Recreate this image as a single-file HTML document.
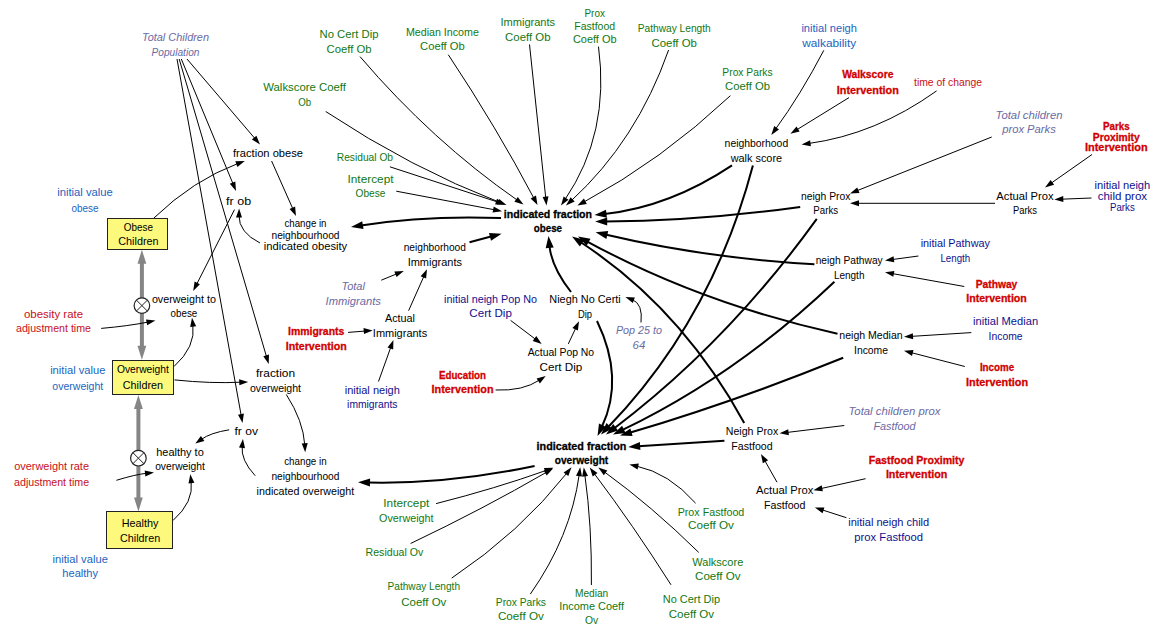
<!DOCTYPE html>
<html><head><meta charset="utf-8"><style>
html,body{margin:0;padding:0;background:#fff;}
svg{display:block;}
text{font-family:"Liberation Sans",sans-serif;font-size:11px;text-anchor:middle;}
</style></head><body>
<svg width="1172" height="636" viewBox="0 0 1172 636">
<rect width="1172" height="636" fill="#fff"/>
<line x1="141.9" y1="259.8" x2="141.9" y2="349.8" stroke="#858585" stroke-width="4"/><polygon points="141.9,249.8 137.5,263.8 146.3,263.8" fill="#858585"/><polygon points="141.9,359.8 137.5,345.8 146.3,345.8" fill="#858585"/><circle cx="141.9" cy="305.6" r="7.8" fill="#fff" stroke="#222" stroke-width="1.2"/><line x1="136.4" y1="300.1" x2="147.4" y2="311.1" stroke="#222" stroke-width="1"/><line x1="136.4" y1="311.1" x2="147.4" y2="300.1" stroke="#222" stroke-width="1"/>
<line x1="138.4" y1="405" x2="138.4" y2="501.5" stroke="#858585" stroke-width="4"/><polygon points="138.4,395 134.0,409 142.8,409" fill="#858585"/><polygon points="138.4,511.5 134.0,497.5 142.8,497.5" fill="#858585"/><circle cx="138.4" cy="458.2" r="7.8" fill="#fff" stroke="#222" stroke-width="1.2"/><line x1="132.9" y1="452.7" x2="143.9" y2="463.7" stroke="#222" stroke-width="1"/><line x1="132.9" y1="463.7" x2="143.9" y2="452.7" stroke="#222" stroke-width="1"/>
<path d="M187.0,59.0 L255.5,139.2" fill="none" stroke="#000" stroke-width="1.0"/>
<polygon points="260.0,144.5 251.9,139.6 256.4,135.7" fill="#000"/>
<path d="M181.3,59.0 L233.3,184.5" fill="none" stroke="#000" stroke-width="1.0"/>
<polygon points="236.0,191.0 229.8,183.8 235.3,181.5" fill="#000"/>
<path d="M179.2,59.0 L266.7,357.3" fill="none" stroke="#000" stroke-width="1.0"/>
<polygon points="268.7,364.0 263.3,356.2 269.0,354.5" fill="#000"/>
<path d="M177.0,59.0 L241.3,416.1" fill="none" stroke="#000" stroke-width="1.0"/>
<polygon points="242.5,423.0 238.0,414.7 243.9,413.6" fill="#000"/>
<path d="M153.9,218.0 Q193.4,180.0 238.2,163.4" fill="none" stroke="#000" stroke-width="1.0"/>
<polygon points="244.8,161.0 237.4,166.9 235.3,161.3" fill="#000"/>
<path d="M271.6,161.0 L293.2,209.6" fill="none" stroke="#000" stroke-width="1.0"/>
<polygon points="296.0,216.0 289.6,209.0 295.1,206.6" fill="#000"/>
<path d="M260.0,243.0 Q238.7,232.3 239.0,215.5" fill="none" stroke="#000" stroke-width="1.0"/>
<polygon points="239.1,208.5 242.0,217.5 236.0,217.5" fill="#000"/>
<path d="M234.5,209.6 L196.4,284.8" fill="none" stroke="#000" stroke-width="1.0"/>
<polygon points="193.2,291.0 194.6,281.6 199.9,284.3" fill="#000"/>
<path d="M101.2,328.4 Q128.5,326.0 148.5,322.0" fill="none" stroke="#000" stroke-width="1.0"/>
<polygon points="155.4,320.6 147.2,325.3 146.0,319.4" fill="#000"/>
<path d="M174.0,366.5 Q195.9,346.9 192.9,324.7" fill="none" stroke="#000" stroke-width="1.0"/>
<polygon points="192.0,317.8 196.2,326.3 190.2,327.1" fill="#000"/>
<path d="M174.5,379.9 Q211.3,383.7 241.2,382.2" fill="none" stroke="#000" stroke-width="1.0"/>
<polygon points="248.2,381.9 239.4,385.3 239.1,379.3" fill="#000"/>
<path d="M286.3,394.5 Q303.3,420.9 304.8,445.2" fill="none" stroke="#000" stroke-width="1.0"/>
<polygon points="305.2,452.2 301.7,443.4 307.7,443.0" fill="#000"/>
<path d="M255.2,475.7 Q240.6,460.1 242.2,445.9" fill="none" stroke="#000" stroke-width="1.0"/>
<polygon points="243.0,438.9 245.0,448.2 239.0,447.5" fill="#000"/>
<path d="M229.2,429.8 Q210.6,432.7 201.0,439.6" fill="none" stroke="#000" stroke-width="1.0"/>
<polygon points="195.3,443.6 200.9,436.0 204.4,440.9" fill="#000"/>
<path d="M116.4,480.3 Q134.8,474.6 147.0,473.2" fill="none" stroke="#000" stroke-width="1.0"/>
<polygon points="154.0,472.4 145.4,476.4 144.7,470.5" fill="#000"/>
<path d="M173.0,520.5 Q193.9,502.0 191.2,481.2" fill="none" stroke="#000" stroke-width="1.0"/>
<polygon points="190.3,474.3 194.4,482.8 188.5,483.6" fill="#000"/>
<path d="M325.7,111.5 Q411.0,168.0 500.0,202.5" fill="none" stroke="#000" stroke-width="1.0"/>
<polygon points="506.5,205.0 497.0,204.5 499.2,199.0" fill="#000"/>
<path d="M389.9,166.8 L497.9,202.1" fill="none" stroke="#000" stroke-width="1.0"/>
<polygon points="504.6,204.3 495.1,204.4 497.0,198.7" fill="#000"/>
<path d="M396.3,191.2 L495.1,209.9" fill="none" stroke="#000" stroke-width="1.0"/>
<polygon points="502.0,211.2 492.6,212.5 493.7,206.6" fill="#000"/>
<path d="M360.0,56.6 Q432.2,141.1 517.8,200.5" fill="none" stroke="#000" stroke-width="1.0"/>
<polygon points="523.5,204.5 514.4,201.8 517.8,196.9" fill="#000"/>
<path d="M448.3,54.7 Q496.7,127.6 534.2,198.8" fill="none" stroke="#000" stroke-width="1.0"/>
<polygon points="537.5,205.0 530.6,198.4 536.0,195.6" fill="#000"/>
<path d="M529.5,44.5 L545.8,198.5" fill="none" stroke="#000" stroke-width="1.0"/>
<polygon points="546.5,205.5 542.6,196.9 548.5,196.2" fill="#000"/>
<path d="M598.5,46.6 Q610.1,133.2 564.9,199.7" fill="none" stroke="#000" stroke-width="1.0"/>
<polygon points="561.0,205.5 563.6,196.4 568.5,199.7" fill="#000"/>
<path d="M668.6,50.0 Q636.8,140.6 571.2,200.8" fill="none" stroke="#000" stroke-width="1.0"/>
<polygon points="566.0,205.5 570.6,197.2 574.7,201.6" fill="#000"/>
<path d="M730.4,95.7 Q661.1,160.7 583.6,202.2" fill="none" stroke="#000" stroke-width="1.0"/>
<polygon points="577.4,205.5 583.9,198.6 586.8,203.9" fill="#000"/>
<path d="M732.0,165.4 Q669.4,207.1 604.4,214.0" fill="none" stroke="#000" stroke-width="2.0"/>
<polygon points="594.5,215.0 606.0,209.8 606.9,217.7" fill="#000"/>
<path d="M800.2,206.9 Q698.2,221.0 605.2,221.5" fill="none" stroke="#000" stroke-width="2.0"/>
<polygon points="595.2,221.6 607.2,217.5 607.2,225.5" fill="#000"/>
<path d="M814.4,264.3 Q703.6,257.8 605.3,234.5" fill="none" stroke="#000" stroke-width="2.0"/>
<polygon points="595.6,232.2 608.2,231.1 606.4,238.9" fill="#000"/>
<path d="M837.5,333.7 Q700.9,303.4 586.8,241.3" fill="none" stroke="#000" stroke-width="2.0"/>
<polygon points="578.0,236.5 590.5,238.7 586.6,245.7" fill="#000"/>
<path d="M744.2,422.9 Q681.5,308.1 580.4,242.0" fill="none" stroke="#000" stroke-width="2.0"/>
<polygon points="572.0,236.5 584.2,239.7 579.9,246.4" fill="#000"/>
<path d="M571.0,292.0 Q551.6,267.3 549.5,246.0" fill="none" stroke="#000" stroke-width="2.0"/>
<polygon points="548.5,236.0 553.7,247.5 545.7,248.3" fill="#000"/>
<path d="M469.5,242.2 L491.9,236.3" fill="none" stroke="#000" stroke-width="2.0"/>
<polygon points="501.6,233.8 491.0,240.7 489.0,233.0" fill="#000"/>
<path d="M501.0,218.0 Q425.6,215.2 360.9,225.4" fill="none" stroke="#000" stroke-width="2.0"/>
<polygon points="351.0,227.0 362.2,221.2 363.5,229.1" fill="#000"/>
<path d="M597.0,321.0 Q624.8,378.4 601.8,427.0" fill="none" stroke="#000" stroke-width="2.0"/>
<polygon points="597.5,436.0 599.0,423.4 606.2,426.9" fill="#000"/>
<path d="M752.9,165.4 Q712.0,319.7 608.0,427.3" fill="none" stroke="#000" stroke-width="2.0"/>
<polygon points="601.0,434.5 606.5,423.1 612.2,428.7" fill="#000"/>
<path d="M816.8,218.9 Q727.6,342.6 614.0,428.5" fill="none" stroke="#000" stroke-width="2.0"/>
<polygon points="606.0,434.5 613.2,424.1 618.0,430.5" fill="#000"/>
<path d="M834.4,281.7 Q735.8,375.6 622.0,430.2" fill="none" stroke="#000" stroke-width="2.0"/>
<polygon points="613.0,434.5 622.1,425.7 625.6,432.9" fill="#000"/>
<path d="M843.2,357.8 Q733.5,402.2 629.6,432.8" fill="none" stroke="#000" stroke-width="2.0"/>
<polygon points="620.0,435.6 630.4,428.4 632.6,436.1" fill="#000"/>
<path d="M724.4,440.7 L638.2,446.3" fill="none" stroke="#000" stroke-width="2.0"/>
<polygon points="628.2,446.9 639.9,442.1 640.4,450.1" fill="#000"/>
<path d="M534.6,466.0 Q447.2,484.3 368.0,482.5" fill="none" stroke="#000" stroke-width="2.0"/>
<polygon points="358.0,482.3 370.1,478.6 369.9,486.6" fill="#000"/>
<path d="M436.1,503.6 Q495.6,488.5 546.8,470.2" fill="none" stroke="#000" stroke-width="1.0"/>
<polygon points="553.4,467.8 545.9,473.7 543.9,468.0" fill="#000"/>
<path d="M410.6,543.5 Q483.3,508.9 546.9,472.0" fill="none" stroke="#000" stroke-width="1.0"/>
<polygon points="553.0,468.5 546.7,475.6 543.7,470.4" fill="#000"/>
<path d="M451.7,578.1 Q520.4,532.1 567.2,472.7" fill="none" stroke="#000" stroke-width="1.0"/>
<polygon points="571.5,467.2 568.3,476.1 563.6,472.4" fill="#000"/>
<path d="M530.3,594.1 Q570.7,536.7 579.3,474.1" fill="none" stroke="#000" stroke-width="1.0"/>
<polygon points="580.2,467.2 582.0,476.5 576.0,475.7" fill="#000"/>
<path d="M591.4,585.0 Q592.0,526.0 584.8,474.4" fill="none" stroke="#000" stroke-width="1.0"/>
<polygon points="583.8,467.5 588.0,476.0 582.1,476.8" fill="#000"/>
<path d="M671.0,584.8 Q632.7,524.5 593.9,473.1" fill="none" stroke="#000" stroke-width="1.0"/>
<polygon points="589.7,467.5 597.5,472.9 592.7,476.5" fill="#000"/>
<path d="M698.7,552.4 Q651.7,506.2 604.0,471.6" fill="none" stroke="#000" stroke-width="1.0"/>
<polygon points="598.3,467.5 607.3,470.4 603.8,475.2" fill="#000"/>
<path d="M695.6,503.2 Q668.9,472.9 636.2,466.0" fill="none" stroke="#000" stroke-width="1.0"/>
<polygon points="629.4,464.6 638.8,463.5 637.6,469.4" fill="#000"/>
<path d="M381.3,280.2 L397.3,273.6" fill="none" stroke="#000" stroke-width="1.0"/>
<polygon points="403.8,270.9 396.6,277.1 394.3,271.6" fill="#000"/>
<path d="M408.6,310.7 L424.2,275.6" fill="none" stroke="#000" stroke-width="1.0"/>
<polygon points="427.0,269.2 426.1,278.6 420.6,276.2" fill="#000"/>
<path d="M348.1,332.4 L365.7,331.0" fill="none" stroke="#000" stroke-width="1.0"/>
<polygon points="372.7,330.4 364.0,334.1 363.5,328.1" fill="#000"/>
<path d="M378.5,381.5 L391.0,346.6" fill="none" stroke="#000" stroke-width="1.0"/>
<polygon points="393.4,340.0 393.2,349.5 387.5,347.5" fill="#000"/>
<path d="M510.6,320.4 L536.1,339.7" fill="none" stroke="#000" stroke-width="1.0"/>
<polygon points="541.7,343.9 532.7,340.9 536.3,336.1" fill="#000"/>
<path d="M495.6,390.0 Q523.0,391.2 539.9,379.8" fill="none" stroke="#000" stroke-width="1.0"/>
<polygon points="545.7,375.9 539.9,383.4 536.6,378.4" fill="#000"/>
<path d="M568.3,343.9 L576.0,327.5" fill="none" stroke="#000" stroke-width="1.0"/>
<polygon points="579.0,321.2 577.9,330.6 572.4,328.1" fill="#000"/>
<path d="M641.0,322.5 Q643.1,303.7 632.0,299.5" fill="none" stroke="#000" stroke-width="1.0"/>
<polygon points="625.4,297.0 634.9,297.4 632.8,303.0" fill="#000"/>
<path d="M823.8,50.3 Q800.7,94.6 775.4,129.3" fill="none" stroke="#000" stroke-width="1.0"/>
<polygon points="771.3,135.0 774.2,126.0 779.0,129.5" fill="#000"/>
<path d="M849.0,97.6 L796.4,130.0" fill="none" stroke="#000" stroke-width="1.0"/>
<polygon points="790.4,133.7 796.5,126.4 799.6,131.5" fill="#000"/>
<path d="M936.6,90.9 Q875.7,134.4 808.5,143.5" fill="none" stroke="#000" stroke-width="1.0"/>
<polygon points="801.6,144.4 810.1,140.2 810.9,146.2" fill="#000"/>
<path d="M991.7,137.0 L856.5,190.9" fill="none" stroke="#000" stroke-width="1.0"/>
<polygon points="850.0,193.5 857.2,187.4 859.5,193.0" fill="#000"/>
<path d="M995.0,203.3 L857.0,203.3" fill="none" stroke="#000" stroke-width="1.0"/>
<polygon points="850.0,203.3 859.0,200.3 859.0,206.3" fill="#000"/>
<path d="M1092.0,154.5 L1050.7,183.5" fill="none" stroke="#000" stroke-width="1.0"/>
<polygon points="1045.0,187.5 1050.6,179.9 1054.1,184.8" fill="#000"/>
<path d="M1091.5,198.0 L1061.3,199.2" fill="none" stroke="#000" stroke-width="1.0"/>
<polygon points="1054.3,199.5 1063.2,196.1 1063.4,202.1" fill="#000"/>
<path d="M918.4,256.0 L891.9,259.6" fill="none" stroke="#000" stroke-width="1.0"/>
<polygon points="885.0,260.5 893.5,256.3 894.3,262.3" fill="#000"/>
<path d="M964.3,286.5 L891.9,273.5" fill="none" stroke="#000" stroke-width="1.0"/>
<polygon points="885.0,272.3 894.4,270.9 893.3,276.8" fill="#000"/>
<path d="M971.3,332.6 L911.0,336.4" fill="none" stroke="#000" stroke-width="1.0"/>
<polygon points="904.0,336.8 912.8,333.2 913.2,339.2" fill="#000"/>
<path d="M964.8,366.5 L910.8,352.5" fill="none" stroke="#000" stroke-width="1.0"/>
<polygon points="904.0,350.7 913.5,350.1 912.0,355.9" fill="#000"/>
<path d="M844.3,425.5 L786.5,432.5" fill="none" stroke="#000" stroke-width="1.0"/>
<polygon points="779.6,433.3 788.2,429.2 788.9,435.2" fill="#000"/>
<path d="M777.0,482.2 L764.5,460.1" fill="none" stroke="#000" stroke-width="1.0"/>
<polygon points="761.0,454.0 768.1,460.3 762.8,463.3" fill="#000"/>
<path d="M865.6,478.7 L820.3,488.7" fill="none" stroke="#000" stroke-width="1.0"/>
<polygon points="813.5,490.2 821.6,485.3 822.9,491.2" fill="#000"/>
<path d="M846.4,517.7 L821.6,509.7" fill="none" stroke="#000" stroke-width="1.0"/>
<polygon points="814.9,507.6 824.4,507.5 822.6,513.2" fill="#000"/>
<rect x="107.5" y="218.5" width="60" height="31" fill="#fdf97c" stroke="#222" stroke-width="1"/>
<rect x="112.5" y="360.5" width="61" height="34" fill="#fdf97c" stroke="#222" stroke-width="1"/>
<rect x="106.5" y="511.5" width="66" height="37" fill="#fdf97c" stroke="#222" stroke-width="1"/>
<text x="175.5" y="41" fill="#6a6aa4" font-style="italic" textLength="67" lengthAdjust="spacingAndGlyphs">Total Children</text>
<text x="175.5" y="55.5" fill="#6a6aa4" font-style="italic" textLength="48" lengthAdjust="spacingAndGlyphs">Population</text>
<text x="85" y="196" fill="#1c64c0" textLength="55.6" lengthAdjust="spacingAndGlyphs">initial value</text>
<text x="85" y="211.5" fill="#1c64c0" textLength="27.1" lengthAdjust="spacingAndGlyphs">obese</text>
<text x="138.4" y="230.7" fill="#000" textLength="29.1" lengthAdjust="spacingAndGlyphs">Obese</text>
<text x="138.4" y="245.4" fill="#000" textLength="40.3" lengthAdjust="spacingAndGlyphs">Children</text>
<text x="268" y="157" fill="#000" textLength="70" lengthAdjust="spacingAndGlyphs">fraction obese</text>
<text x="238.6" y="204.5" fill="#000" textLength="25" lengthAdjust="spacingAndGlyphs">fr ob</text>
<text x="305.5" y="226.5" fill="#000" textLength="42" lengthAdjust="spacingAndGlyphs">change in</text>
<text x="305.5" y="238.6" fill="#000" textLength="68" lengthAdjust="spacingAndGlyphs">neighbourhood</text>
<text x="305.5" y="250.2" fill="#000" textLength="83.4" lengthAdjust="spacingAndGlyphs">indicated obesity</text>
<text x="183.9" y="302.5" fill="#000" textLength="64" lengthAdjust="spacingAndGlyphs">overweight to</text>
<text x="183.9" y="317.3" fill="#000" textLength="26.6" lengthAdjust="spacingAndGlyphs">obese</text>
<text x="53.5" y="317.5" fill="#c81020" textLength="59" lengthAdjust="spacingAndGlyphs">obesity rate</text>
<text x="53.5" y="331.5" fill="#c81020" textLength="75" lengthAdjust="spacingAndGlyphs">adjustment time</text>
<text x="77.8" y="373.6" fill="#1c64c0" textLength="55.3" lengthAdjust="spacingAndGlyphs">initial value</text>
<text x="77.8" y="389.5" fill="#1c64c0" textLength="50.9" lengthAdjust="spacingAndGlyphs">overweight</text>
<text x="142.9" y="373.4" fill="#000" textLength="52" lengthAdjust="spacingAndGlyphs">Overweight</text>
<text x="142.9" y="389.3" fill="#000" textLength="40.1" lengthAdjust="spacingAndGlyphs">Children</text>
<text x="275.5" y="376.7" fill="#000" textLength="39" lengthAdjust="spacingAndGlyphs">fraction</text>
<text x="275.5" y="391.7" fill="#000" textLength="51" lengthAdjust="spacingAndGlyphs">overweight</text>
<text x="246.2" y="435.4" fill="#000" textLength="23.5" lengthAdjust="spacingAndGlyphs">fr ov</text>
<text x="180" y="456" fill="#000" textLength="47.5" lengthAdjust="spacingAndGlyphs">healthy to</text>
<text x="180" y="470.2" fill="#000" textLength="49.7" lengthAdjust="spacingAndGlyphs">overweight</text>
<text x="51.6" y="470" fill="#c81020" textLength="74.8" lengthAdjust="spacingAndGlyphs">overweight rate</text>
<text x="51.6" y="486" fill="#c81020" textLength="75" lengthAdjust="spacingAndGlyphs">adjustment time</text>
<text x="140.1" y="526.6" fill="#000" textLength="36.7" lengthAdjust="spacingAndGlyphs">Healthy</text>
<text x="140.1" y="541.5" fill="#000" textLength="40.1" lengthAdjust="spacingAndGlyphs">Children</text>
<text x="80.2" y="563" fill="#1c64c0" textLength="55.4" lengthAdjust="spacingAndGlyphs">initial value</text>
<text x="80.2" y="577" fill="#1c64c0" textLength="35.8" lengthAdjust="spacingAndGlyphs">healthy</text>
<text x="305.4" y="465.2" fill="#000" textLength="42.4" lengthAdjust="spacingAndGlyphs">change in</text>
<text x="305.4" y="480" fill="#000" textLength="68" lengthAdjust="spacingAndGlyphs">neighbourhood</text>
<text x="305.4" y="495" fill="#000" textLength="97.6" lengthAdjust="spacingAndGlyphs">indicated overweight</text>
<text x="304.6" y="91" fill="#127812" textLength="82.7" lengthAdjust="spacingAndGlyphs">Walkscore Coeff</text>
<text x="304.6" y="106.3" fill="#127812" textLength="12.9" lengthAdjust="spacingAndGlyphs">Ob</text>
<text x="349" y="38.2" fill="#127812" textLength="59" lengthAdjust="spacingAndGlyphs">No Cert Dip</text>
<text x="349" y="52.6" fill="#127812" textLength="45" lengthAdjust="spacingAndGlyphs">Coeff Ob</text>
<text x="442.4" y="35.8" fill="#127812" textLength="73" lengthAdjust="spacingAndGlyphs">Median Income</text>
<text x="442.4" y="50" fill="#127812" textLength="44.6" lengthAdjust="spacingAndGlyphs">Coeff Ob</text>
<text x="527.8" y="26.2" fill="#127812" textLength="54.6" lengthAdjust="spacingAndGlyphs">Immigrants</text>
<text x="527.8" y="40.5" fill="#127812" textLength="45.4" lengthAdjust="spacingAndGlyphs">Coeff Ob</text>
<text x="594.7" y="16.8" fill="#127812" textLength="20.4" lengthAdjust="spacingAndGlyphs">Prox</text>
<text x="594.7" y="29.7" fill="#127812" textLength="40.9" lengthAdjust="spacingAndGlyphs">Fastfood</text>
<text x="594.7" y="43" fill="#127812" textLength="43.6" lengthAdjust="spacingAndGlyphs">Coeff Ob</text>
<text x="674.2" y="32" fill="#127812" textLength="73" lengthAdjust="spacingAndGlyphs">Pathway Length</text>
<text x="674.2" y="46.6" fill="#127812" textLength="45.4" lengthAdjust="spacingAndGlyphs">Coeff Ob</text>
<text x="747.5" y="75.7" fill="#127812" textLength="50.3" lengthAdjust="spacingAndGlyphs">Prox Parks</text>
<text x="747.5" y="90.4" fill="#127812" textLength="44.9" lengthAdjust="spacingAndGlyphs">Coeff Ob</text>
<text x="364.9" y="161.4" fill="#127812" textLength="56.3" lengthAdjust="spacingAndGlyphs">Residual Ob</text>
<text x="370.5" y="182.9" fill="#127812" textLength="46" lengthAdjust="spacingAndGlyphs">Intercept</text>
<text x="370.5" y="197.3" fill="#127812" textLength="29.8" lengthAdjust="spacingAndGlyphs">Obese</text>
<text x="547.9" y="217.7" fill="#000" font-weight="bold" stroke="#000" stroke-width="0.3" textLength="88.3" lengthAdjust="spacingAndGlyphs">indicated fraction</text>
<text x="547.9" y="232.1" fill="#000" font-weight="bold" stroke="#000" stroke-width="0.3" textLength="28.4" lengthAdjust="spacingAndGlyphs">obese</text>
<text x="434.8" y="250.8" fill="#000" textLength="62.3" lengthAdjust="spacingAndGlyphs">neighborhood</text>
<text x="434.8" y="266.4" fill="#000" textLength="54.3" lengthAdjust="spacingAndGlyphs">Immigrants</text>
<text x="353.2" y="289.5" fill="#6a6aa4" font-style="italic" textLength="23.6" lengthAdjust="spacingAndGlyphs">Total</text>
<text x="353.2" y="304.6" fill="#6a6aa4" font-style="italic" textLength="55.3" lengthAdjust="spacingAndGlyphs">Immigrants</text>
<text x="400" y="321.7" fill="#000" textLength="30" lengthAdjust="spacingAndGlyphs">Actual</text>
<text x="400" y="336.6" fill="#000" textLength="54.3" lengthAdjust="spacingAndGlyphs">Immigrants</text>
<text x="316.2" y="334.7" fill="#d00000" font-weight="bold" stroke="#d00000" stroke-width="0.3" textLength="56.3" lengthAdjust="spacingAndGlyphs">Immigrants</text>
<text x="316.2" y="349.7" fill="#d00000" font-weight="bold" stroke="#d00000" stroke-width="0.3" textLength="61" lengthAdjust="spacingAndGlyphs">Intervention</text>
<text x="372.3" y="393.7" fill="#10108c" textLength="55.2" lengthAdjust="spacingAndGlyphs">initial neigh</text>
<text x="372.3" y="408.2" fill="#10108c" textLength="50.4" lengthAdjust="spacingAndGlyphs">immigrants</text>
<text x="490.6" y="303" fill="#10108c" textLength="93" lengthAdjust="spacingAndGlyphs">initial neigh Pop No</text>
<text x="490.6" y="317" fill="#10108c" textLength="42.6" lengthAdjust="spacingAndGlyphs">Cert Dip</text>
<text x="462.5" y="378.6" fill="#d00000" font-weight="bold" stroke="#d00000" stroke-width="0.3" textLength="47" lengthAdjust="spacingAndGlyphs">Education</text>
<text x="462.5" y="393.2" fill="#d00000" font-weight="bold" stroke="#d00000" stroke-width="0.3" textLength="62" lengthAdjust="spacingAndGlyphs">Intervention</text>
<text x="585" y="302.7" fill="#000" textLength="71.4" lengthAdjust="spacingAndGlyphs">Niegh No Certi</text>
<text x="585" y="317.5" fill="#000" textLength="14.1" lengthAdjust="spacingAndGlyphs">Dip</text>
<text x="560.9" y="355.8" fill="#000" textLength="66.5" lengthAdjust="spacingAndGlyphs">Actual Pop No</text>
<text x="560.9" y="370.8" fill="#000" textLength="42.9" lengthAdjust="spacingAndGlyphs">Cert Dip</text>
<text x="639" y="334.2" fill="#6a6aa4" font-style="italic" textLength="46.1" lengthAdjust="spacingAndGlyphs">Pop 25 to</text>
<text x="639" y="348.7" fill="#6a6aa4" font-style="italic" textLength="12.8" lengthAdjust="spacingAndGlyphs">64</text>
<text x="581.5" y="449.5" fill="#000" font-weight="bold" stroke="#000" stroke-width="0.3" textLength="89.8" lengthAdjust="spacingAndGlyphs">indicated fraction</text>
<text x="581.5" y="464.2" fill="#000" font-weight="bold" stroke="#000" stroke-width="0.3" textLength="53.5" lengthAdjust="spacingAndGlyphs">overweight</text>
<text x="829.2" y="31.6" fill="#1c64c0" textLength="55.6" lengthAdjust="spacingAndGlyphs">initial neigh</text>
<text x="829.2" y="46.8" fill="#1c64c0" textLength="54" lengthAdjust="spacingAndGlyphs">walkability</text>
<text x="867.8" y="78.3" fill="#d00000" font-weight="bold" stroke="#d00000" stroke-width="0.3" textLength="51.3" lengthAdjust="spacingAndGlyphs">Walkscore</text>
<text x="867.8" y="93.6" fill="#d00000" font-weight="bold" stroke="#d00000" stroke-width="0.3" textLength="62" lengthAdjust="spacingAndGlyphs">Intervention</text>
<text x="948" y="85.6" fill="#c81020" textLength="68" lengthAdjust="spacingAndGlyphs">time of change</text>
<text x="756.4" y="146.5" fill="#000" textLength="63.6" lengthAdjust="spacingAndGlyphs">neighborhood</text>
<text x="756.4" y="161.8" fill="#000" textLength="51.4" lengthAdjust="spacingAndGlyphs">walk score</text>
<text x="1029" y="119" fill="#6a6aa4" font-style="italic" textLength="67" lengthAdjust="spacingAndGlyphs">Total children</text>
<text x="1029" y="133.4" fill="#6a6aa4" font-style="italic" textLength="53.6" lengthAdjust="spacingAndGlyphs">prox Parks</text>
<text x="1116.3" y="130.1" fill="#d00000" font-weight="bold" stroke="#d00000" stroke-width="0.3" textLength="26.7" lengthAdjust="spacingAndGlyphs">Parks</text>
<text x="1116.3" y="140.6" fill="#d00000" font-weight="bold" stroke="#d00000" stroke-width="0.3" textLength="46.9" lengthAdjust="spacingAndGlyphs">Proximity</text>
<text x="1116.3" y="150.5" fill="#d00000" font-weight="bold" stroke="#d00000" stroke-width="0.3" textLength="62.6" lengthAdjust="spacingAndGlyphs">Intervention</text>
<text x="825.7" y="199.6" fill="#000" textLength="49.5" lengthAdjust="spacingAndGlyphs">neigh Prox</text>
<text x="825.7" y="214" fill="#000" textLength="24.8" lengthAdjust="spacingAndGlyphs">Parks</text>
<text x="1025" y="199.5" fill="#000" textLength="57.3" lengthAdjust="spacingAndGlyphs">Actual Prox</text>
<text x="1025" y="214.2" fill="#000" textLength="23.9" lengthAdjust="spacingAndGlyphs">Parks</text>
<text x="1122.4" y="188.6" fill="#10108c" textLength="55.7" lengthAdjust="spacingAndGlyphs">initial neigh</text>
<text x="1122.4" y="199.5" fill="#10108c" textLength="49.5" lengthAdjust="spacingAndGlyphs">child prox</text>
<text x="1122.4" y="211" fill="#10108c" textLength="24.6" lengthAdjust="spacingAndGlyphs">Parks</text>
<text x="849.2" y="263.5" fill="#000" textLength="67" lengthAdjust="spacingAndGlyphs">neigh Pathway</text>
<text x="849.2" y="279" fill="#000" textLength="30.5" lengthAdjust="spacingAndGlyphs">Length</text>
<text x="955.3" y="246.9" fill="#10108c" textLength="69.3" lengthAdjust="spacingAndGlyphs">initial Pathway</text>
<text x="955.3" y="261.9" fill="#10108c" textLength="29.7" lengthAdjust="spacingAndGlyphs">Length</text>
<text x="996.5" y="287.9" fill="#d00000" font-weight="bold" stroke="#d00000" stroke-width="0.3" textLength="41.6" lengthAdjust="spacingAndGlyphs">Pathway</text>
<text x="996.5" y="302" fill="#d00000" font-weight="bold" stroke="#d00000" stroke-width="0.3" textLength="60.5" lengthAdjust="spacingAndGlyphs">Intervention</text>
<text x="871" y="338.8" fill="#000" textLength="63.4" lengthAdjust="spacingAndGlyphs">neigh Median</text>
<text x="871" y="353.5" fill="#000" textLength="34" lengthAdjust="spacingAndGlyphs">Income</text>
<text x="1005.6" y="325.2" fill="#10108c" textLength="65" lengthAdjust="spacingAndGlyphs">initial Median</text>
<text x="1005.6" y="340.2" fill="#10108c" textLength="34" lengthAdjust="spacingAndGlyphs">Income</text>
<text x="997" y="371.3" fill="#d00000" font-weight="bold" stroke="#d00000" stroke-width="0.3" textLength="34.2" lengthAdjust="spacingAndGlyphs">Income</text>
<text x="997" y="386.3" fill="#d00000" font-weight="bold" stroke="#d00000" stroke-width="0.3" textLength="62" lengthAdjust="spacingAndGlyphs">Intervention</text>
<text x="894.5" y="415.4" fill="#6a6aa4" font-style="italic" textLength="92" lengthAdjust="spacingAndGlyphs">Total children prox</text>
<text x="894.5" y="430" fill="#6a6aa4" font-style="italic" textLength="42.2" lengthAdjust="spacingAndGlyphs">Fastfood</text>
<text x="752" y="434.9" fill="#000" textLength="52.4" lengthAdjust="spacingAndGlyphs">Neigh Prox</text>
<text x="752" y="449.5" fill="#000" textLength="41.3" lengthAdjust="spacingAndGlyphs">Fastfood</text>
<text x="916.6" y="463.5" fill="#d00000" font-weight="bold" stroke="#d00000" stroke-width="0.3" textLength="95.7" lengthAdjust="spacingAndGlyphs">Fastfood Proximity</text>
<text x="916.6" y="478.2" fill="#d00000" font-weight="bold" stroke="#d00000" stroke-width="0.3" textLength="61.4" lengthAdjust="spacingAndGlyphs">Intervention</text>
<text x="784.7" y="494.2" fill="#000" textLength="57.4" lengthAdjust="spacingAndGlyphs">Actual Prox</text>
<text x="784.7" y="508.9" fill="#000" textLength="41.4" lengthAdjust="spacingAndGlyphs">Fastfood</text>
<text x="888.7" y="526.3" fill="#10108c" textLength="81" lengthAdjust="spacingAndGlyphs">initial neigh child</text>
<text x="888.7" y="541" fill="#10108c" textLength="68.7" lengthAdjust="spacingAndGlyphs">prox Fastfood</text>
<text x="406.3" y="507.2" fill="#127812" textLength="45.9" lengthAdjust="spacingAndGlyphs">Intercept</text>
<text x="406.3" y="521.7" fill="#127812" textLength="54.5" lengthAdjust="spacingAndGlyphs">Overweight</text>
<text x="394.4" y="555.6" fill="#127812" textLength="57.6" lengthAdjust="spacingAndGlyphs">Residual Ov</text>
<text x="423.8" y="590" fill="#127812" textLength="72.4" lengthAdjust="spacingAndGlyphs">Pathway Length</text>
<text x="423.8" y="605.5" fill="#127812" textLength="45" lengthAdjust="spacingAndGlyphs">Coeff Ov</text>
<text x="520.9" y="605.8" fill="#127812" textLength="50.2" lengthAdjust="spacingAndGlyphs">Prox Parks</text>
<text x="520.9" y="620.3" fill="#127812" textLength="45.9" lengthAdjust="spacingAndGlyphs">Coeff Ov</text>
<text x="591.6" y="597.1" fill="#127812" textLength="33.3" lengthAdjust="spacingAndGlyphs">Median</text>
<text x="591.6" y="610.4" fill="#127812" textLength="64.8" lengthAdjust="spacingAndGlyphs">Income Coeff</text>
<text x="591.6" y="624" fill="#127812" textLength="13.2" lengthAdjust="spacingAndGlyphs">Ov</text>
<text x="691.4" y="603.3" fill="#127812" textLength="57.3" lengthAdjust="spacingAndGlyphs">No Cert Dip</text>
<text x="691.4" y="618" fill="#127812" textLength="45.5" lengthAdjust="spacingAndGlyphs">Coeff Ov</text>
<text x="717.8" y="565.7" fill="#127812" textLength="50.9" lengthAdjust="spacingAndGlyphs">Walkscore</text>
<text x="717.8" y="580.2" fill="#127812" textLength="45.5" lengthAdjust="spacingAndGlyphs">Coeff Ov</text>
<text x="711" y="515.5" fill="#127812" textLength="66.7" lengthAdjust="spacingAndGlyphs">Prox Fastfood</text>
<text x="711" y="529.3" fill="#127812" textLength="45.9" lengthAdjust="spacingAndGlyphs">Coeff Ov</text>
</svg></body></html>
